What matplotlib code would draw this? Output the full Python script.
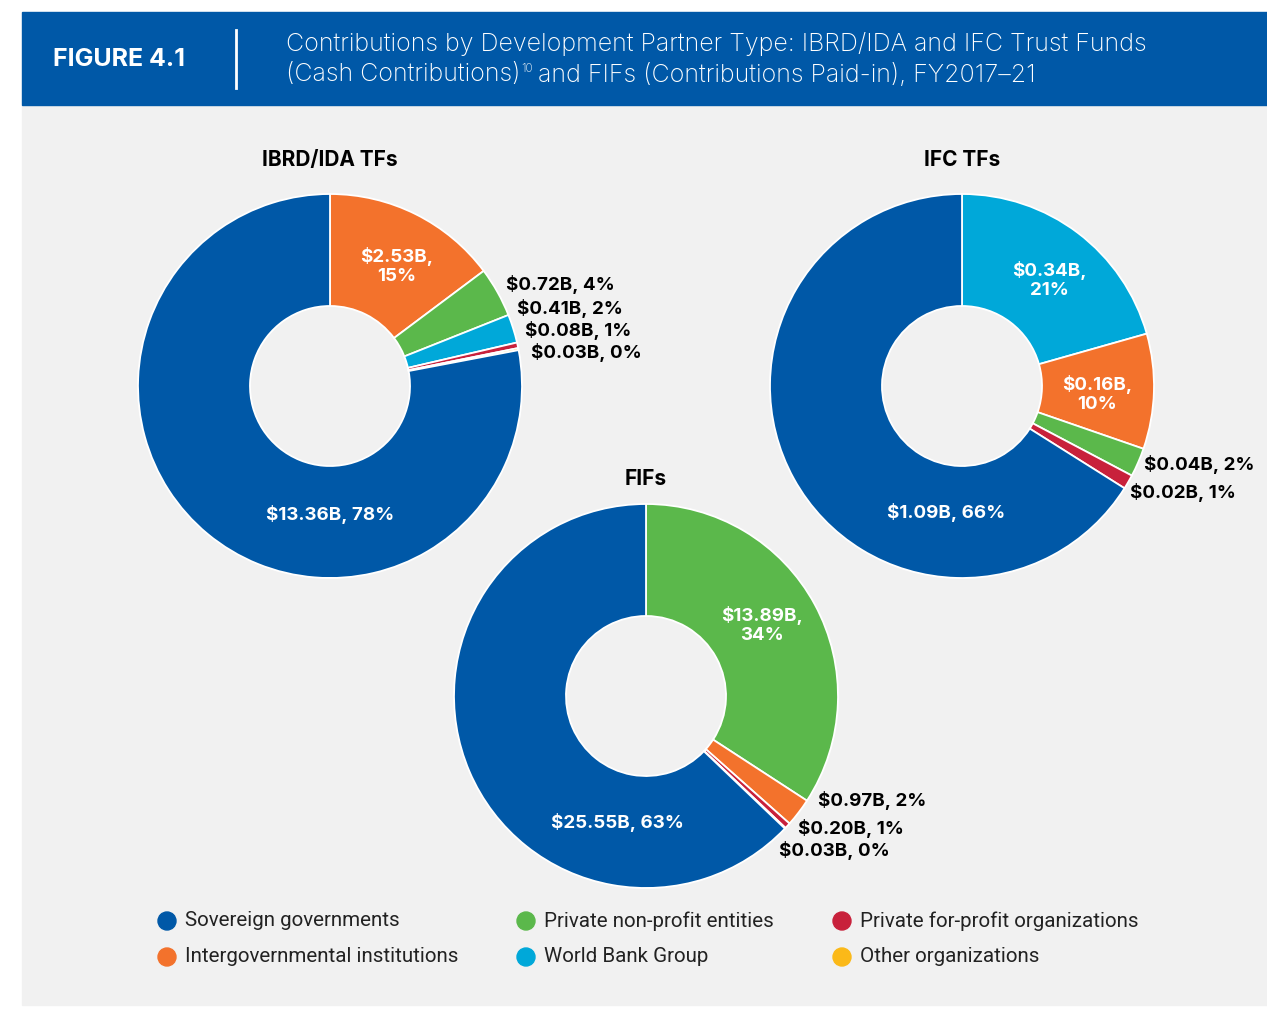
import matplotlib.pyplot as plt
from matplotlib.patches import Rectangle, Circle

plt.rcParams['font.family'] = ['Inter', 'DejaVu Sans']

W, H = 1267, 1009

# colours per partner type
categories = ["Sovereign governments", "Intergovernmental institutions",
              "Private non-profit entities", "World Bank Group",
              "Private for-profit organizations", "Other organizations"]
colors = {"Sovereign governments": "#0058A7",
          "Intergovernmental institutions": "#F3722C",
          "Private non-profit entities": "#5BB84B",
          "World Bank Group": "#00A8D9",
          "Private for-profit organizations": "#C8213B",
          "Other organizations": "#FBB918"}

# IBRD/IDA TFs (clockwise from top)
ibrd_cats = ["Intergovernmental institutions", "Private non-profit entities",
             "World Bank Group", "Private for-profit organizations",
             "Other organizations", "Sovereign governments"]
ibrd_vals = [2.53, 0.72, 0.41, 0.08, 0.03, 13.36]
ibrd_labels = ["$2.53B,\n15%", "$0.72B, 4%", "$0.41B, 2%", "$0.08B, 1%",
               "$0.03B, 0%", "$13.36B, 78%"]

# IFC TFs
ifc_cats = ["World Bank Group", "Intergovernmental institutions",
            "Private non-profit entities", "Private for-profit organizations",
            "Sovereign governments"]
ifc_vals = [0.34, 0.16, 0.04, 0.02, 1.09]
ifc_labels = ["$0.34B,\n21%", "$0.16B,\n10%", "$0.04B, 2%", "$0.02B, 1%",
              "$1.09B, 66%"]

# FIFs
fif_cats = ["Private non-profit entities", "Intergovernmental institutions",
            "Private for-profit organizations", "Other organizations",
            "Sovereign governments"]
fif_vals = [13.89, 0.97, 0.20, 0.03, 25.55]
fif_labels = ["$13.89B,\n34%", "$0.97B, 2%", "$0.20B, 1%", "$0.03B, 0%",
              "$25.55B, 63%"]


def fy(y):
    return H - y


fig = plt.figure(figsize=(W / 100, H / 100), dpi=100)
fig.patch.set_facecolor("white")
ax = fig.add_axes([0, 0, 1, 1])
ax.set_xlim(0, W)
ax.set_ylim(0, H)
ax.set_aspect("equal")
ax.axis("off")

# panel + header
ax.add_patch(Rectangle((22, fy(1005)), W - 22, 1005 - 105, color="#F1F1F1", zorder=0))
ax.add_patch(Rectangle((22, fy(105)), W - 22, 105 - 12, color="#0058A7", zorder=0))
ax.plot([236, 236], [fy(30), fy(88)], color="white", lw=2)
ax.text(53, fy(59), "FIGURE 4.1", color="white", fontsize=18, fontweight="bold",
        va="center", ha="left")
ax.text(286, fy(44), "Contributions by Development Partner Type: IBRD/IDA and IFC Trust Funds",
        color="white", fontsize=18, va="center", ha="left", fontweight="light")
t1 = ax.text(286, fy(75), "(Cash Contributions)", color="white", fontsize=18,
             va="center", ha="left", fontweight="light")
fig.canvas.draw()
bb = t1.get_window_extent()
ax.text(bb.x1 + 1, fy(69), "10", color="white", fontsize=8.5, va="center", ha="left",
        fontweight="light")
ax.text(bb.x1 + 17, fy(75), "and FIFs (Contributions Paid-in), FY2017\u201321",
        color="white", fontsize=18, va="center", ha="left", fontweight="light")

R, WIDTH = 192, 112


def donut(cx, cy, vals, cats, title, ty):
    ax.pie(vals, colors=[colors[c] for c in cats], startangle=90,
           counterclock=False, center=(cx, fy(cy)), radius=R,
           wedgeprops=dict(width=WIDTH, edgecolor="white", linewidth=1.3))
    ax.text(cx, fy(ty), title, fontsize=15, fontweight="bold", ha="center",
            va="center", color="black")


donut(330, 386, ibrd_vals, ibrd_cats, "IBRD/IDA TFs", 160)
donut(962, 386, ifc_vals, ifc_cats, "IFC TFs", 160)
donut(646, 696, fif_vals, fif_cats, "FIFs", 479)
ax.set_xlim(0, W)
ax.set_ylim(0, H)


def lbl(x, y, s, inside=False):
    if inside:
        ax.text(x, fy(y), s, color="white", fontsize=13.5, fontweight="bold",
                ha="center", va="center", linespacing=1.2)
    else:
        ax.text(x, fy(y), s, color="black", fontsize=13.5, fontweight="bold",
                ha="left", va="center")


# IBRD/IDA labels
lbl(397, 266, ibrd_labels[0], True)
lbl(506, 285, ibrd_labels[1])
lbl(517, 308, ibrd_labels[2])
lbl(525, 330, ibrd_labels[3])
lbl(531, 352, ibrd_labels[4])
lbl(330, 515, ibrd_labels[5], True)
# IFC labels
lbl(1049, 280, ifc_labels[0], True)
lbl(1097, 394, ifc_labels[1], True)
lbl(1144, 465, ifc_labels[2])
lbl(1130, 492, ifc_labels[3])
lbl(946, 513, ifc_labels[4], True)
# FIF labels
lbl(762, 625, fif_labels[0], True)
lbl(818, 801, fif_labels[1])
lbl(798, 828, fif_labels[2])
lbl(779, 851, fif_labels[3])
lbl(617, 822, fif_labels[4], True)

# legend
legend_order = ["Sovereign governments", "Private non-profit entities",
                "Private for-profit organizations", "Intergovernmental institutions",
                "World Bank Group", "Other organizations"]
col_x = [167, 526, 842]
row_y = [921, 957]
for i, cat in enumerate(legend_order):
    x = col_x[i % 3]
    y = row_y[i // 3]
    ax.add_patch(Circle((x, fy(y)), 9, color=colors[cat]))
    ax.text(x + 18, fy(y), cat, fontsize=14.8, ha="left", va="center", color="#222222",
            family=["Roboto", "DejaVu Sans"])

fig.savefig("out.png", dpi=100, facecolor=fig.get_facecolor())
